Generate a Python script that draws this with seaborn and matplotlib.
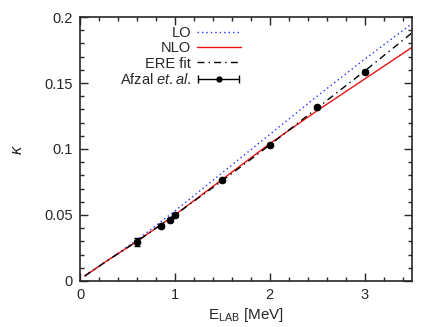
import numpy as np
import pandas as pd
import seaborn as sns
import matplotlib.pyplot as plt
from matplotlib.container import ErrorbarContainer
from matplotlib.legend_handler import HandlerErrorbar
from matplotlib.ticker import MultipleLocator

# theory curves
e_curve = [0.05, 0.3, 0.6, 1.0, 1.5, 2.0, 2.5, 3.0, 3.5]
k_lo = [0.0038, 0.016, 0.031, 0.053, 0.082, 0.111, 0.140, 0.168, 0.195]
k_nlo = [0.0038, 0.016, 0.030, 0.050, 0.077, 0.104, 0.129, 0.153, 0.177]
k_ere = [0.0038, 0.016, 0.030, 0.050, 0.076, 0.103, 0.131, 0.159, 0.188]

# Afzal et.al. data
e_data = [0.6, 0.85, 0.95, 1.0, 1.5, 2.0, 2.5, 3.0]
k_data = [0.0295, 0.0413, 0.0465, 0.0500, 0.0762, 0.1030, 0.1318, 0.1587]
k_err = [0.0030, 0.0015, 0.0015, 0.0012, 0.0010, 0.0010, 0.0010, 0.0012]

x_ticks = [0, 1, 2, 3]
y_ticks = [0, 0.05, 0.1, 0.15, 0.2]
y_ticklabels = ['0', '0.05', '0.1', '0.15', '0.2']

sns.set_style("ticks")
plt.rcParams['font.family'] = ['Liberation Sans', 'DejaVu Sans']
plt.rcParams['font.size'] = 10
plt.rcParams['mathtext.fontset'] = 'custom'
plt.rcParams['mathtext.rm'] = 'Liberation Sans'
plt.rcParams['mathtext.it'] = 'Liberation Sans:italic'

curves = pd.DataFrame({'E': e_curve, 'LO': k_lo, 'NLO': k_nlo, 'ERE fit': k_ere})

fig = plt.figure(figsize=(4.36, 3.27), dpi=100)
ax = fig.add_axes([0.1835, 0.1407, 0.7615, 0.8073])

sns.lineplot(data=curves, x='E', y='LO', ax=ax, color='#2030ff', lw=1.0,
             linestyle=(0, (1, 2.2)), label='LO')
sns.lineplot(data=curves, x='E', y='NLO', ax=ax, color='#ee1111', lw=1.0,
             label='NLO')
sns.lineplot(data=curves, x='E', y='ERE fit', ax=ax, color='black', lw=1.0,
             linestyle=(0, (5, 3, 1, 3)), label='ERE fit')

ax.errorbar(e_data, k_data, yerr=k_err, fmt='o', color='black', ms=4.5,
            capsize=2.5, elinewidth=1.0, zorder=5)
# legend proxy drawn gnuplot-style as a horizontal bar
proxy = ax.errorbar([np.nan], [np.nan], xerr=[0], fmt='o', color='black',
                    ms=3.5, capsize=3, elinewidth=1.0)

ax.set_xlim(0, 3.5)
ax.set_ylim(0, 0.2)
ax.set_xticks(x_ticks)
ax.set_xticklabels([str(t) for t in x_ticks])
ax.set_yticks(y_ticks)
ax.set_yticklabels(y_ticklabels)
ax.xaxis.set_minor_locator(MultipleLocator(0.2))
ax.yaxis.set_minor_locator(MultipleLocator(0.01))
ax.tick_params(which='both', direction='in', top=True, right=True, labelsize=10.5)
ax.tick_params(which='major', length=6, width=1.0, pad=5)
ax.tick_params(which='minor', length=3, width=1.0)
for s in ax.spines.values():
    s.set_linewidth(1.2)

ax.set_xlabel(r'E$_{\mathrm{LAB}}$ [MeV]', fontsize=11, labelpad=3)
ax.set_ylabel(r'$\kappa$', fontsize=12, labelpad=14)

handles, labels = ax.get_legend_handles_labels()
handles = handles[:3] + [proxy]
labels = ['LO', 'NLO', 'ERE fit', r'Afzal $\mathit{et.al.}$']
ax.legend(handles, labels, loc='upper left', bbox_to_anchor=(0.08, 1.015),
          frameon=False, markerfirst=False, handlelength=3.0, handletextpad=0.4,
          labelspacing=0.08, fontsize=10.5,
          handler_map={ErrorbarContainer: HandlerErrorbar(xerr_size=1.4)})

fig.savefig('out.png', dpi=100)
